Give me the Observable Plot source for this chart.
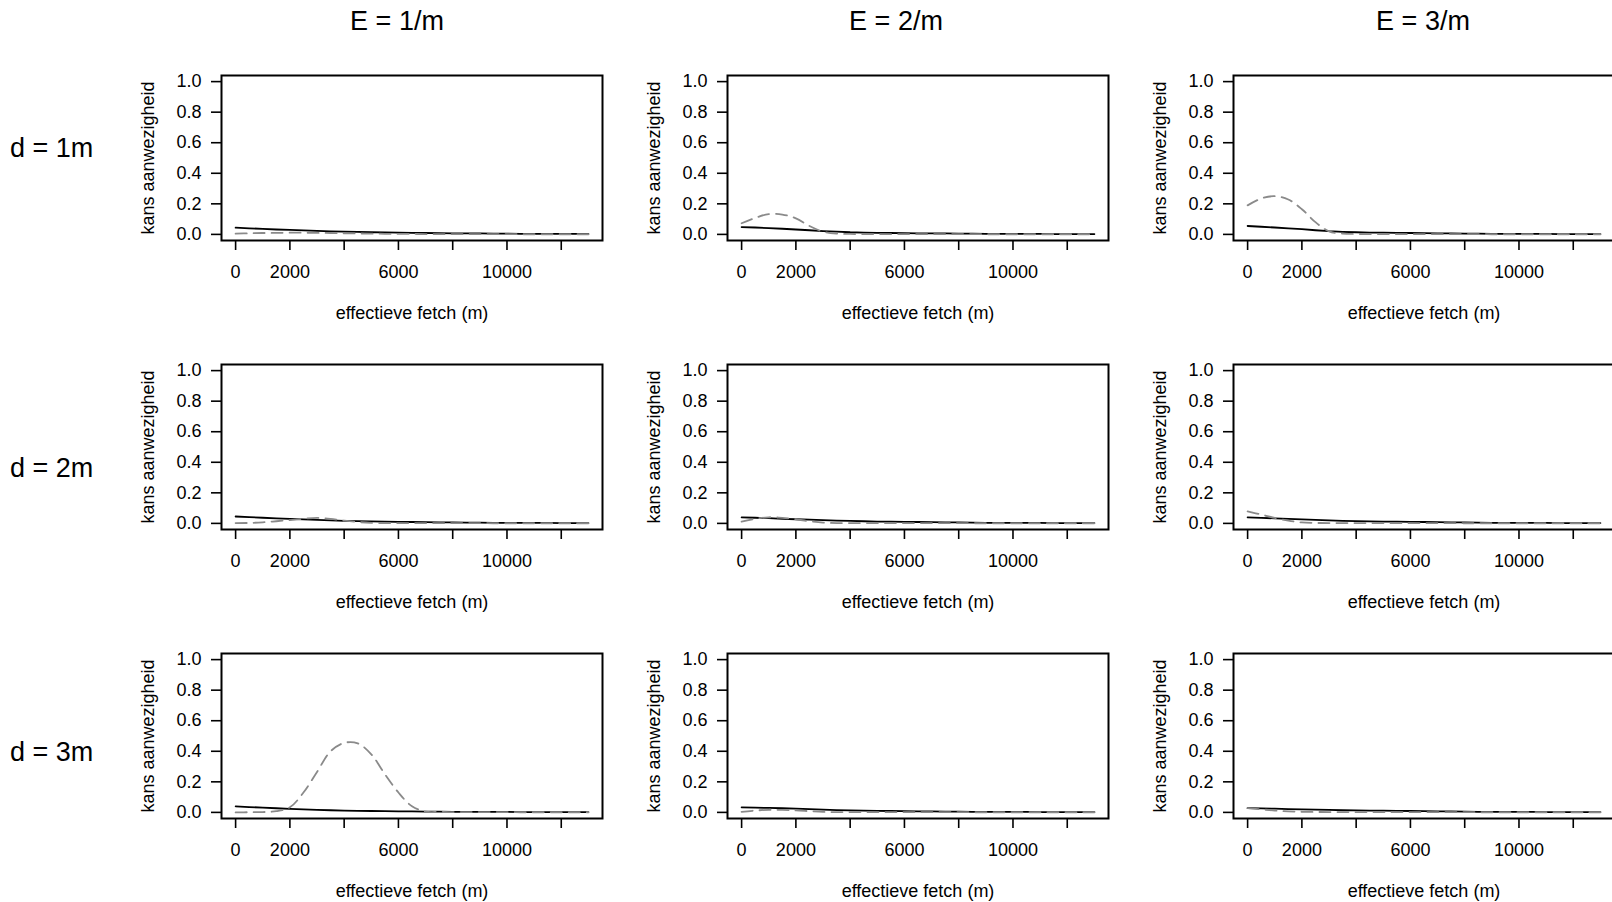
<!DOCTYPE html>
<html><head><meta charset="utf-8">
<script src="https://cdn.jsdelivr.net/npm/d3@7"></script>
<script src="https://cdn.jsdelivr.net/npm/@observablehq/plot@0.6"></script>
<style>
html,body{margin:0;padding:0;background:#fff;overflow:hidden;}
#chart{position:relative;width:1612px;height:902px;font-family:"Liberation Sans",Arial,sans-serif;color:#000;overflow:hidden;}
.colTitle{position:absolute;font-size:27px;transform:translate(-50%,-50%);white-space:nowrap;}
.rowTitle{position:absolute;font-size:27px;transform:translateY(-50%);white-space:nowrap;}
.panel{position:absolute;}
</style></head><body><div id="chart"></div>
<script>
// ---- data ----
const fetchX = [0,500,1000,1500,2000,2500,3000,3500,4000,4500,5000,5500,6000,6500,7000,7500,8000,8500,9000,9500,10000,10500,11000,11500,12000,12500,13000];
const colLabels = ["E = 1/m", "E = 2/m", "E = 3/m"];
const rowLabels = ["d = 1m", "d = 2m", "d = 3m"];
const xTicks = [0,2000,4000,6000,8000,10000,12000];
const xTickLabels = [0,2000,6000,10000];
const yTicks = [0,0.2,0.4,0.6,0.8,1.0];
const xLabel = "effectieve fetch (m)";
const yLabel = "kans aanwezigheid";

// solid black lines
const solid_d1_E1 = [0.044,0.040,0.036,0.032,0.029,0.026,0.023,0.020,0.018,0.016,0.014,0.013,0.011,0.010,0.009,0.008,0.007,0.006,0.006,0.005,0.005,0.004,0.004,0.003,0.003,0.003,0.003];
const solid_d1_E2 = [0.048,0.045,0.041,0.037,0.032,0.027,0.022,0.018,0.014,0.012,0.010,0.009,0.008,0.007,0.006,0.006,0.005,0.005,0.004,0.004,0.003,0.003,0.003,0.002,0.002,0.002,0.002];
const solid_d1_E3 = [0.055,0.050,0.045,0.040,0.034,0.027,0.021,0.017,0.014,0.012,0.011,0.010,0.009,0.008,0.007,0.006,0.005,0.005,0.004,0.004,0.003,0.003,0.003,0.002,0.002,0.002,0.002];
const solid_d2_E1 = [0.045,0.041,0.037,0.033,0.030,0.026,0.023,0.020,0.017,0.015,0.013,0.011,0.010,0.009,0.008,0.007,0.006,0.005,0.005,0.004,0.004,0.003,0.003,0.003,0.002,0.002,0.002];
const solid_d2_E2 = [0.040,0.037,0.034,0.030,0.027,0.024,0.021,0.018,0.016,0.014,0.012,0.011,0.010,0.009,0.008,0.007,0.006,0.005,0.004,0.004,0.003,0.003,0.003,0.002,0.002,0.002,0.002];
const solid_d2_E3 = [0.040,0.036,0.033,0.029,0.026,0.023,0.020,0.017,0.015,0.013,0.012,0.011,0.010,0.009,0.008,0.007,0.006,0.005,0.004,0.004,0.003,0.003,0.003,0.002,0.002,0.002,0.002];
const solid_d3_E1 = [0.040,0.035,0.031,0.027,0.023,0.020,0.017,0.014,0.012,0.010,0.009,0.008,0.007,0.006,0.005,0.005,0.004,0.004,0.003,0.003,0.003,0.002,0.002,0.002,0.002,0.002,0.002];
const solid_d3_E2 = [0.033,0.031,0.029,0.027,0.025,0.021,0.018,0.015,0.013,0.011,0.010,0.009,0.008,0.007,0.006,0.005,0.005,0.004,0.004,0.003,0.003,0.003,0.002,0.002,0.002,0.002,0.002];
const solid_d3_E3 = [0.028,0.026,0.024,0.022,0.020,0.018,0.016,0.014,0.013,0.012,0.011,0.010,0.009,0.008,0.007,0.006,0.005,0.004,0.004,0.003,0.003,0.003,0.002,0.002,0.002,0.002,0.002];

// dashed grey lines
const dashed_d1_E1 = [0.005,0.007,0.009,0.010,0.011,0.011,0.010,0.009,0.007,0.006,0.005,0.004,0.003,0.003,0.002,0.002,0.002,0.002,0.002,0.002,0.002,0.001,0.001,0.001,0.001,0.001,0.001];
const dashed_d1_E2 = [0.073,0.108,0.133,0.130,0.105,0.055,0.018,0.005,0.003,0.002,0.002,0.002,0.002,0.002,0.002,0.002,0.002,0.002,0.001,0.001,0.001,0.001,0.001,0.001,0.001,0.001,0.001];
const dashed_d1_E3 = [0.190,0.235,0.250,0.228,0.165,0.080,0.020,0.005,0.003,0.002,0.002,0.002,0.002,0.002,0.002,0.002,0.002,0.002,0.001,0.001,0.001,0.001,0.001,0.001,0.001,0.001,0.001];
const dashed_d2_E1 = [0.002,0.003,0.007,0.014,0.022,0.030,0.036,0.030,0.018,0.009,0.004,0.002,0.002,0.002,0.002,0.002,0.002,0.002,0.002,0.001,0.001,0.001,0.001,0.001,0.001,0.001,0.001];
const dashed_d2_E2 = [0.011,0.030,0.040,0.036,0.027,0.014,0.005,0.002,0.002,0.002,0.002,0.002,0.002,0.002,0.002,0.002,0.002,0.001,0.001,0.001,0.001,0.001,0.001,0.001,0.001,0.001,0.001];
const dashed_d2_E3 = [0.078,0.058,0.036,0.018,0.006,0.003,0.002,0.002,0.002,0.002,0.002,0.002,0.002,0.002,0.002,0.002,0.001,0.001,0.001,0.001,0.001,0.001,0.001,0.001,0.001,0.001,0.001];
const dashed_d3_E1 = [0.000,0.001,0.002,0.008,0.033,0.130,0.265,0.400,0.455,0.452,0.380,0.250,0.130,0.040,0.005,0.003,0.002,0.002,0.002,0.002,0.002,0.001,0.001,0.001,0.001,0.001,0.001];
const dashed_d3_E2 = [0.003,0.012,0.017,0.016,0.013,0.008,0.003,0.002,0.002,0.002,0.002,0.002,0.002,0.002,0.002,0.002,0.002,0.001,0.001,0.001,0.001,0.001,0.001,0.001,0.001,0.001,0.001];
const dashed_d3_E3 = [0.028,0.020,0.012,0.007,0.004,0.003,0.002,0.002,0.002,0.002,0.002,0.002,0.002,0.002,0.002,0.002,0.002,0.001,0.001,0.001,0.001,0.001,0.001,0.001,0.001,0.001,0.001];

const solidSeries = [[solid_d1_E1, solid_d1_E2, solid_d1_E3],[solid_d2_E1, solid_d2_E2, solid_d2_E3],[solid_d3_E1, solid_d3_E2, solid_d3_E3]];
const dashedSeries = [[dashed_d1_E1, dashed_d1_E2, dashed_d1_E3],[dashed_d2_E1, dashed_d2_E2, dashed_d2_E3],[dashed_d3_E1, dashed_d3_E2, dashed_d3_E3]];

// ---- layout ----
const chart = document.getElementById("chart");
const FONT = '"Liberation Sans", Arial, sans-serif';
const colTitleX = [397, 896, 1423];
const rowTitleY = [148, 468, 752];
const mL = 100, mR = 10, mT = 10, mB = 90, boxW = 381, boxH = 165;
const FS = 18;

colLabels.forEach((t, c) => {
  const d = document.createElement("div");
  d.className = "colTitle"; d.textContent = t;
  d.style.left = colTitleX[c] + "px"; d.style.top = "21px";
  chart.appendChild(d);
});
rowLabels.forEach((t, r) => {
  const d = document.createElement("div");
  d.className = "rowTitle"; d.textContent = t;
  d.style.left = "10px"; d.style.top = rowTitleY[r] + "px";
  chart.appendChild(d);
});

const fmtY = d3.format(".1f");
for (let r = 0; r < 3; r++) {
  for (let c = 0; c < 3; c++) {
    const solid = fetchX.map((x, i) => ({x, y: solidSeries[r][c][i]}));
    const dashed = fetchX.map((x, i) => ({x, y: dashedSeries[r][c][i]}));
    const p = Plot.plot({
      width: mL + boxW + mR, height: mT + boxH + mB,
      marginLeft: mL, marginRight: mR, marginTop: mT, marginBottom: mB,
      x: {domain: [-520, 13520]},
      y: {domain: [-0.04, 1.04]},
      style: {fontFamily: FONT, fontSize: FS + "px", color: "#000", background: "transparent", overflow: "visible"},
      marks: [
        Plot.axisX({ticks: xTicks, tickSize: 10, tickPadding: 15, strokeWidth: 1.6,
          tickFormat: d => xTickLabels.includes(d) ? String(d) : "", label: null, fontSize: FS}),
        Plot.axisY({ticks: yTicks, tickSize: 10, tickPadding: 10, strokeWidth: 1.6,
          tickFormat: fmtY, label: null, fontSize: FS}),
        Plot.line(solid, {x: "x", y: "y", stroke: "#000", strokeWidth: 1.8}),
        Plot.line(dashed, {x: "x", y: "y", stroke: "#8a8a8a", strokeWidth: 1.8, strokeDasharray: "11,7", curve: "catmull-rom"}),
        Plot.frame({stroke: "#000", strokeWidth: 2}),
        Plot.text([xLabel], {text: d => d, frameAnchor: "bottom", lineAnchor: "middle", textAnchor: "middle", dy: 73, fontSize: FS, fill: "#000"}),
        Plot.text([yLabel], {text: d => d, frameAnchor: "left", lineAnchor: "middle", textAnchor: "middle", dx: -73, rotate: -90, fontSize: FS, fill: "#000"})
      ]
    });
    p.classList.add("panel");
    p.style.left = (220.7 - mL + 506 * c) + "px";
    p.style.top = (75 - mT + 289 * r) + "px";
    chart.appendChild(p);
  }
}
</script>
</body></html>
